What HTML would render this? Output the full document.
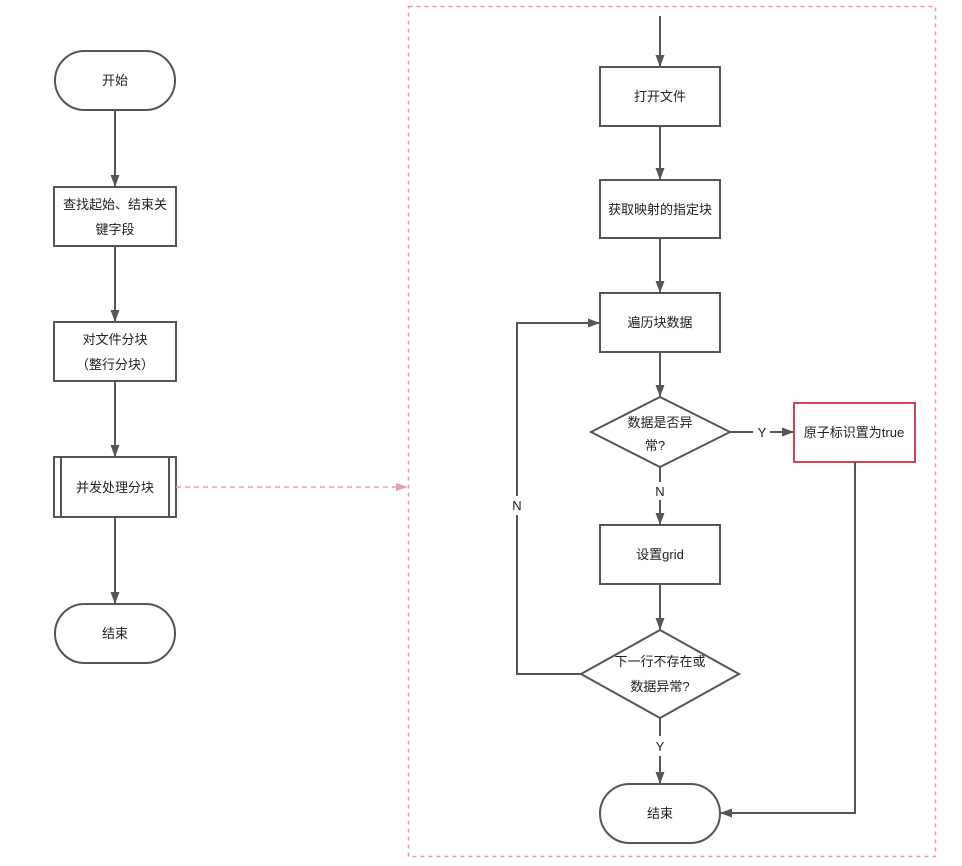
<!DOCTYPE html>
<html><head><meta charset="utf-8"><style>body{margin:0;background:#fff}svg{display:block}text{font-family:"Liberation Sans","Noto Sans CJK SC",sans-serif;font-size:13px;fill:#222}</style></head><body>
<svg width="962" height="866" viewBox="0 0 962 866">
<defs>
<marker id="a" markerWidth="12" markerHeight="10" refX="11" refY="5" orient="auto" markerUnits="userSpaceOnUse"><path d="M0,0.5 L12,5 L0,9.5 Z" fill="#555"/></marker>
<marker id="r" markerWidth="12" markerHeight="10" refX="11" refY="5" orient="auto" markerUnits="userSpaceOnUse"><path d="M0,1 L12,5 L0,9 Z" fill="#eaa0a8"/></marker>
</defs>
<g fill="#fff" stroke="#555" stroke-width="2">
<rect x="55" y="51" width="120" height="59" rx="29.5"/>
<rect x="54" y="187" width="122" height="59"/>
<rect x="54" y="322" width="122" height="59"/>
<rect x="54" y="457" width="122" height="60"/>
<line x1="61" y1="457" x2="61" y2="517"/><line x1="169" y1="457" x2="169" y2="517"/>
<rect x="55" y="604" width="120" height="59" rx="29.5"/>
<rect x="600" y="67" width="120" height="59"/>
<rect x="600" y="180" width="120" height="58"/>
<rect x="600" y="293" width="120" height="59"/>
<polygon points="660,397 730,432 660,467 591,432"/>
<rect x="600" y="525" width="120" height="59"/>
<polygon points="660,630 739,674 660,718 581,674"/>
<rect x="600" y="784" width="120" height="59" rx="29.5"/>
</g>
<rect x="794" y="403" width="121" height="59" fill="#fff" stroke="#d9434f" stroke-width="2"/>
<rect x="408.5" y="6.5" width="527" height="850" fill="none" stroke="#e79aa2" stroke-width="1.5" stroke-dasharray="4,4"/>
<line x1="176" y1="487" x2="407" y2="487" stroke="#eaa0a8" stroke-width="1.5" stroke-dasharray="5,4" marker-end="url(#r)"/>
<g stroke="#555" stroke-width="2" fill="none">
<line x1="730" y1="432" x2="753" y2="432"/>
<line x1="660" y1="467" x2="660" y2="482"/>
<line x1="660" y1="718" x2="660" y2="736"/>
<polyline points="581,674 517,674 517,515"/>
</g>
<g stroke="#555" stroke-width="2" fill="none" marker-end="url(#a)">
<line x1="115" y1="110" x2="115" y2="186"/>
<line x1="115" y1="246" x2="115" y2="321"/>
<line x1="115" y1="381" x2="115" y2="456"/>
<line x1="115" y1="517" x2="115" y2="603"/>
<line x1="660" y1="16" x2="660" y2="66"/>
<line x1="660" y1="126" x2="660" y2="179"/>
<line x1="660" y1="238" x2="660" y2="292"/>
<line x1="660" y1="352" x2="660" y2="396"/>
<line x1="770" y1="432" x2="793" y2="432"/>
<line x1="660" y1="500" x2="660" y2="524"/>
<line x1="660" y1="584" x2="660" y2="629"/>
<polyline points="517,496 517,323 599,323"/>
<line x1="660" y1="756" x2="660" y2="783"/>
<polyline points="855,462 855,813 721,813"/>
</g>
<g text-anchor="middle">
<text x="115" y="85">开始</text>
<text x="115" y="209">查找起始、结束关</text><text x="115" y="234">键字段</text>
<text x="115" y="344">对文件分块</text><text x="115" y="369">（整行分块）</text>
<text x="115" y="492">并发处理分块</text>
<text x="115" y="638">结束</text>
<text x="660" y="101">打开文件</text>
<text x="660" y="214">获取映射的指定块</text>
<text x="660" y="327">遍历块数据</text>
<text x="660" y="427">数据是否异</text><text x="655" y="450">常?</text>
<text x="762" y="437">Y</text>
<text x="854" y="437">原子标识置为true</text>
<text x="660" y="496">N</text>
<text x="660" y="559">设置grid</text>
<text x="660" y="666">下一行不存在或</text><text x="660" y="691">数据异常?</text>
<text x="517" y="510">N</text>
<text x="660" y="751">Y</text>
<text x="660" y="818">结束</text>
</g>
</svg>
</body></html>
